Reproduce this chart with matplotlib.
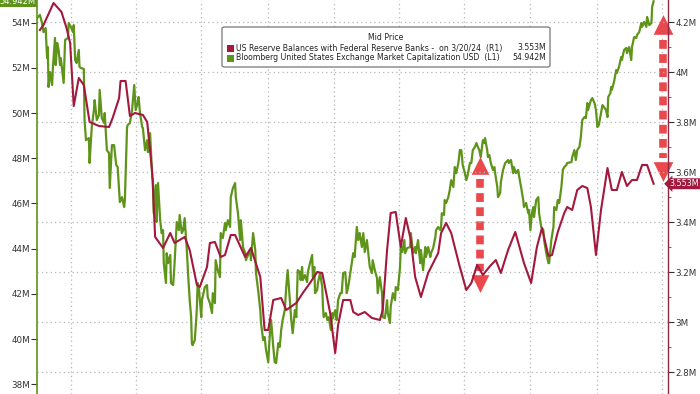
import numpy as np
import matplotlib
matplotlib.use('Agg')
import matplotlib.pyplot as plt
import matplotlib.dates as mdates
import matplotlib.patheffects as pe
from matplotlib.patches import FancyBboxPatch, Rectangle

start = np.datetime64('2022-01-01')

# US reserve balances (R1), days after 1 Jan 2022 and value in "M"
res_days = [-43, -38, -24, -13, -6, -1, 4, 11, 18, 26,
            39, 53, 58, 67, 69, 76, 82, 89, 100, 106,
            113, 117, 128, 138, 144, 158, 165, 175, 179, 189,
            193, 200, 208, 214, 222, 228, 242, 250, 263, 269,
            274, 281, 292, 299, 313, 322, 332, 342, 349, 360,
            367, 371, 378, 388, 392, 399, 408, 418, 429, 433,
            439, 444, 451, 458, 465, 472, 478, 486, 496, 503,
            510, 514, 521, 528, 540, 549, 556, 564, 572, 582,
            590, 597, 607, 617, 629, 639, 647, 654, 663, 668,
            676, 685, 689, 696, 703, 710, 717, 722, 729, 736,
            745, 751, 758, 765, 772, 779, 786, 793, 800, 809]
res_vals = [4.168, 4.188, 4.276, 4.240, 4.176, 4.116, 3.864, 3.976, 3.948, 3.800,
            3.784, 3.780, 3.816, 3.896, 3.964, 3.964, 3.824, 3.836, 3.828, 3.800,
            3.596, 3.340, 3.296, 3.356, 3.316, 3.340, 3.288, 3.148, 3.140, 3.220,
            3.316, 3.320, 3.260, 3.268, 3.348, 3.348, 3.260, 3.296, 3.180, 2.968,
            2.968, 3.088, 3.096, 3.048, 3.076, 3.116, 3.156, 3.200, 3.196, 3.036,
            2.876, 2.988, 3.088, 3.088, 3.040, 3.028, 3.040, 3.016, 3.008, 3.048,
            3.288, 3.436, 3.440, 3.300, 3.416, 3.328, 3.180, 3.100, 3.196, 3.236,
            3.276, 3.356, 3.396, 3.356, 3.220, 3.128, 3.156, 3.228, 3.188, 3.224,
            3.248, 3.196, 3.288, 3.360, 3.236, 3.156, 3.300, 3.376, 3.264, 3.268,
            3.360, 3.436, 3.460, 3.448, 3.528, 3.544, 3.536, 3.460, 3.268, 3.448,
            3.616, 3.528, 3.528, 3.600, 3.544, 3.568, 3.568, 3.628, 3.628, 3.553]

# Bloomberg US exchange market cap (L1)
mcap_days = [-47, -43, -40, -38, -35, -33, -32, -31, -29, -26, -25, -22, -21, -19, -17, -15, -14, -10, -8, -4,
             -3, 0, 3, 4, 6, 8, 11, 12, 14, 18, 19, 21, 25, 26, 29, 32, 33, 36, 39, 40,
             43, 46, 47, 50, 53, 54, 57, 60, 63, 65, 68, 71, 74, 75, 78,
             79, 82, 85, 88, 90, 93, 94, 96, 99, 100, 103, 106, 107, 110, 113, 114, 115, 118, 119, 121,
             124, 126, 128, 129, 132, 133, 135, 138, 139, 142, 144, 147, 150, 151, 154, 156, 158, 161, 163, 165,
             167, 168, 169, 172, 174, 175, 176, 178, 181, 182, 186, 189, 190, 193, 196, 197,
             200, 201, 204, 207, 208, 211, 214, 215, 218, 221, 222, 225, 228, 229, 232, 235, 236, 239, 242, 243,
             249, 250, 253, 256, 257, 260, 263, 264, 267, 269, 271, 274, 276, 278, 281, 283, 285, 288, 290, 292,
             294, 297, 299, 301, 304, 306, 308, 311, 313, 315, 318, 319,
             321, 322, 325, 328, 329, 332, 335, 336, 338, 339, 342, 343, 346, 349, 350, 351, 354, 356, 358, 361,
             363, 364, 367, 369, 371, 374, 376, 378, 381, 383, 385, 388, 390, 392, 394, 397, 399, 401, 404, 406,
             408, 411, 413, 415, 418, 419, 422, 425, 426, 429, 432, 433, 436, 439, 440,
             443, 444, 447, 450, 451, 454, 457, 458, 460, 463, 464, 467, 471, 472, 475, 478, 479, 482, 485, 486,
             489, 492, 493, 496, 499, 500, 503, 506, 507, 510, 513, 514, 515, 518, 519, 521, 524, 526, 528, 531,
             533, 535, 538, 540, 542, 544, 547, 549, 551, 554, 556, 558, 561,
             563, 565, 567, 569, 572, 574, 575, 578, 579, 581, 583, 586, 588, 589, 592, 593, 596, 597, 600, 603,
             607, 608, 611, 614, 615, 618, 621, 622, 625, 628, 629, 632, 635, 636, 638, 640, 642, 643, 646, 649,
             650, 653, 656, 657, 660, 663, 664, 667, 670, 671, 674, 676, 678, 681, 683,
             685, 688, 689, 695, 696, 699, 701, 703, 706, 708, 710, 713, 715, 717, 718, 720, 722, 724, 727, 729,
             731, 733, 736, 738, 740, 743, 745, 746, 749, 750, 751, 754, 757, 758, 761, 764, 765, 768, 771, 772,
             775, 778, 779, 782, 785, 786, 789, 792, 793, 796, 799, 800, 803, 806, 807, 809]
mcap_vals = [54.20, 54.34, 53.98, 53.58, 53.76, 52.43, 52.92, 51.15, 51.81, 51.24, 51.99, 53.32, 52.12, 53.10, 52.79, 52.12, 52.43, 51.33, 53.23, 53.32,
             53.98, 53.81, 53.58, 53.89, 52.34, 52.21, 52.79, 52.04, 51.99, 51.95, 49.69, 48.80, 48.89, 47.79, 49.38, 50.13, 50.57, 49.69, 49.91, 51.02,
             49.78, 49.56, 50.00, 48.36, 48.23, 46.68, 48.58, 48.58, 47.70, 47.61, 46.06, 46.28, 45.84, 46.15, 49.38,
             49.47, 49.56, 50.13, 51.24, 50.13, 50.49, 50.71, 50.00, 49.38, 49.34, 48.36, 48.80, 48.27, 49.11, 47.17, 47.03, 45.57, 46.81, 45.18, 46.90,
             45.26, 44.69, 44.82, 43.36, 42.48, 43.80, 43.36, 43.72, 42.48, 42.39, 43.36, 45.18, 44.82, 45.49, 44.69, 44.82, 45.35, 43.94, 42.74, 41.72,
             40.97, 39.82, 39.73, 39.95, 40.84, 41.42, 42.48, 42.17, 40.97, 41.72, 42.30, 42.39, 41.86, 41.59, 41.15, 42.03,
             41.59, 43.49, 43.05, 42.74, 44.69, 44.47, 45.13, 44.82, 45.26, 44.96, 46.28, 46.68, 46.90, 46.28, 45.57, 44.38, 45.26, 44.07, 43.80, 43.49,
             43.94, 43.49, 44.69, 43.94, 42.92, 42.17, 41.28, 40.71, 39.95, 40.09, 39.51, 38.98, 40.09, 40.84, 39.65, 38.98, 38.94, 39.82, 39.65, 40.40,
             40.84, 41.28, 42.30, 43.05, 41.72, 40.84, 40.26, 41.28, 40.97, 43.05, 42.96, 42.61,
             43.19, 42.61, 42.83, 42.52, 42.96, 43.36, 43.72, 42.74, 43.19, 42.03, 42.17, 42.48, 42.92, 42.30, 41.42, 40.97, 41.15, 40.84, 40.97, 40.40,
             41.15, 40.93, 41.28, 40.84, 41.72, 42.03, 42.03, 42.92, 42.96, 42.03, 42.30, 42.92, 43.36, 43.80, 43.63, 44.96, 44.38, 44.69, 44.07, 44.69,
             43.85, 44.38, 43.80, 43.19, 42.92, 43.49, 43.05, 42.70, 42.03, 42.74, 42.03, 40.97, 40.93, 41.72, 41.15,
             40.71, 41.42, 42.03, 41.72, 42.30, 42.17, 43.19, 44.07, 43.85, 44.38, 43.80, 44.03, 44.07, 44.69, 43.80, 44.07, 43.80, 44.38, 43.36, 43.94,
             43.05, 44.07, 43.63, 44.07, 43.63, 43.80, 44.03, 44.51, 44.82, 44.96, 44.82, 44.96, 45.57, 45.49, 46.15, 46.02, 46.28, 46.59, 47.03, 46.73,
             47.61, 47.34, 47.79, 48.36, 48.36, 47.70, 47.34, 47.03, 47.26, 47.79, 47.79, 48.36, 48.50,
             48.67, 48.50, 48.36, 48.05, 48.80, 48.67, 48.89, 48.36, 48.05, 48.14, 47.79, 47.48, 47.61, 47.34, 46.73, 46.28, 46.46, 46.95, 47.48, 47.79,
             47.92, 47.79, 47.92, 47.34, 47.61, 47.34, 47.48, 47.26, 46.73, 46.15, 45.84, 46.02, 45.57, 45.71, 44.82, 45.57, 45.84, 45.40, 46.15, 46.28,
             45.57, 44.96, 44.82, 44.38, 43.80, 43.36, 43.36, 44.38, 44.96, 45.84, 45.71, 46.15, 46.02, 46.73, 47.48,
             47.61, 47.70, 47.79, 47.83, 48.05, 48.36, 47.92, 48.36, 48.50, 48.94, 49.69, 49.82, 49.78, 50.44, 50.13, 50.35, 50.57, 50.66, 50.44, 50.13,
             49.38, 49.47, 50.00, 50.35, 50.27, 50.13, 49.82, 50.71, 50.88, 51.15, 51.02, 51.37, 51.90, 51.77, 52.04, 52.48, 52.34, 52.79, 52.88, 52.65,
             52.92, 52.34, 52.92, 53.36, 53.32, 53.45, 53.58, 53.98, 53.81, 54.03, 53.81, 54.25, 53.89, 53.98, 54.69, 54.942]

left_ticks = [38, 40, 42, 44, 46, 48, 50, 52, 54]
right_ticks = [2.8, 3.0, 3.2, 3.4, 3.6, 3.8, 4.0, 4.2]

GREEN = '#5e9419'
RED = '#a3183d'
ARROW = '#e9494c'


def d(days):
    return start + np.array(days).astype('timedelta64[D]')


def fp(x, y):
    # pixel position in the 700x394 canvas -> figure fraction
    return x / 700, 1 - y / 394


plt.rcParams['font.family'] = 'DejaVu Sans'
fig = plt.figure(figsize=(7, 3.94), dpi=100)
ax = fig.add_axes([37 / 700, 0, 631 / 700, 1])
ax2 = ax.twinx()

ax.set_xlim(d(-47), d(829))
ax.set_ylim(37.57, 55.0)
ax2.set_ylim(2.712, 4.288)

# vertical grid on quarter starts, horizontal grid from right axis
ax.xaxis.set_major_locator(mdates.MonthLocator(bymonth=[1, 4, 7, 10]))
ax.tick_params(axis='x', length=0, labelbottom=False)
ax.grid(axis='x', color='#b5b5b5', linestyle=(0, (1, 2.5)), linewidth=0.9)
ax2.grid(axis='y', color='#b5b5b5', linestyle=(0, (1, 2.5)), linewidth=0.9)

ax2.plot(d(mcap_days), mcap_vals, color=GREEN, lw=1.6, transform=ax.transData, zorder=2)
ax2.plot(d(res_days), res_vals, color=RED, lw=1.5, zorder=3)

ax.set_yticks(left_ticks)
ax.set_yticklabels([f'{v}M' for v in left_ticks])
ax2.set_yticks(right_ticks)
ax2.set_yticklabels(['%gM' % round(v, 1) for v in right_ticks])
ax2.set_yticks(np.arange(2.9, 4.25, 0.2), minor=True)
ax.tick_params(axis='y', labelsize=6.3, colors='#333333', length=4, width=0.8, pad=1)
ax2.tick_params(axis='y', which='major', labelsize=6.3, colors='#333333', length=4, width=0.8, pad=1.5)
ax2.tick_params(axis='y', which='minor', length=2.5, width=0.6, colors='#8a3a50')

for a in (ax, ax2):
    a.spines['top'].set_visible(False)
    a.spines['bottom'].set_visible(False)
ax2.spines['left'].set_color(GREEN)
ax2.spines['left'].set_linewidth(1.2)
ax2.spines['right'].set_color('#8c2a45')
ax2.spines['right'].set_linewidth(1.0)
ax.spines['left'].set_visible(False)
ax.spines['right'].set_visible(False)

# last-value tags
ax.text(-0.002, 54.942, '54.942M', transform=ax.get_yaxis_transform(), ha='right', va='center',
        fontsize=6, color='white', clip_on=False,
        bbox=dict(boxstyle='square,pad=0.2', fc=GREEN, ec='none'))
ax2.text(1.003, 3.553, '3.553M', transform=ax2.get_yaxis_transform(), ha='left', va='center',
         fontsize=5.8, color='white', clip_on=False,
         bbox=dict(boxstyle='larrow,pad=0.12', fc=RED, ec='none'))

# dashed double arrows
outline = [pe.Stroke(linewidth=7.5, foreground='white'), pe.Normal()]
for day, y_top, y_bot, s_top, s_bot, ms in [(568, 47.70, 42.45, 47.10, 43.00, 14),
                                           (822, 53.94, 47.39, 53.25, 48.00, 15.5)]:
    ax.plot([d(day), d(day)], [s_top, s_bot], color=ARROW, lw=5.5, dashes=(1.15, 0.7),
            dash_capstyle='butt', path_effects=outline, zorder=5, clip_on=False)
    ax.plot([d(day)], [y_top], marker='^', ms=ms, color=ARROW, mec='white', mew=1.0, zorder=6, clip_on=False)
    ax.plot([d(day)], [y_bot], marker='v', ms=ms, color=ARROW, mec='white', mew=1.0, zorder=6, clip_on=False)

# legend block
x0, y0 = fp(222, 67)
x1, y1 = fp(550, 27)
fig.patches.append(FancyBboxPatch((x0, y0), x1 - x0, y1 - y0, boxstyle='round,pad=0,rounding_size=0.004',
                                  transform=fig.transFigure, fc='white', ec='#777777', lw=0.9, zorder=10))
fig.text(*fp(386, 37), 'Mid Price', ha='center', va='center', fontsize=5.6, color='#222222', zorder=11)
rows = [(RED, 'US Reserve Balances with Federal Reserve Banks -  on 3/20/24  (R1)', '3.553M', 48),
        (GREEN, 'Bloomberg United States Exchange Market Capitalization USD  (L1)', '54.942M', 58)]
for col, name, val, yy in rows:
    sx, sy = fp(227, yy + 3.5)
    fig.patches.append(Rectangle((sx, sy), 7 / 700, 7 / 394, transform=fig.transFigure,
                                 fc=col, ec='none', zorder=11))
    fig.text(*fp(236, yy), name, ha='left', va='center', fontsize=5.6, color='#222222', zorder=11)
    fig.text(*fp(546, yy), val, ha='right', va='center', fontsize=5.6, color='#222222', zorder=11)

fig.savefig('out.png', dpi=100)
